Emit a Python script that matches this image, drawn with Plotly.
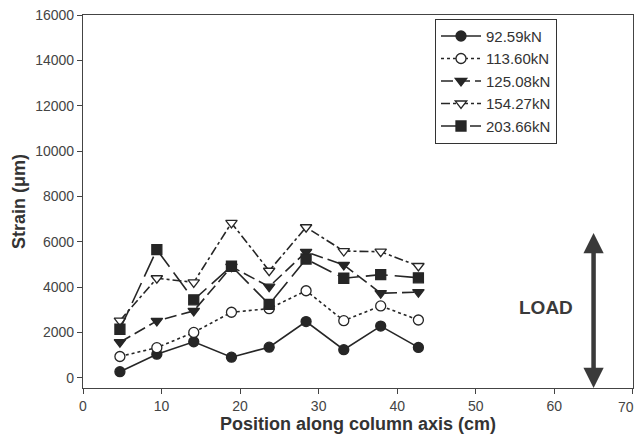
import plotly.graph_objects as go

positions = [4.7, 9.4, 14.1, 18.9, 23.7, 28.4, 33.2, 37.9, 42.7]
s_9259 = [270, 1040, 1590, 910, 1350, 2480, 1240, 2280, 1340]
s_11360 = [940, 1330, 2000, 2890, 3050, 3840, 2520, 3170, 2550]
s_12508 = [1570, 2510, 2950, 4900, 4020, 5550, 4980, 3730, 3780]
s_15427 = [2520, 4390, 4210, 6830, 4720, 6640, 5590, 5560, 4930]
s_20366 = [2140, 5650, 3440, 4920, 3240, 5240, 4390, 4550, 4410]
labels = ["92.59kN", "113.60kN", "125.08kN", "154.27kN", "203.66kN"]
y_ticks = list(range(0, 16001, 2000))
x_ticks = list(range(0, 71, 10))

ink = "#262626"
series = [
    (s_9259, "circle", ink, "solid"),
    (s_11360, "circle", "white", "dot"),
    (s_12508, "triangle-down", ink, "12px,5px"),
    (s_15427, "triangle-down", "white", "dashdot"),
    (s_20366, "square", ink, "22px,7px"),
]

fig = go.Figure()
for (vals, sym, fill, dash), name in zip(series, labels):
    fig.add_trace(go.Scatter(
        x=positions, y=vals, name=name, mode="lines+markers",
        line=dict(color=ink, width=1.6, dash=dash),
        marker=dict(symbol=sym, size=10, color=fill, line=dict(color=ink, width=1.3)),
    ))

fig.add_annotation(x=65, y=-450, ax=65, ay=6450, xref="x", yref="y", axref="x", ayref="y",
                   text="", showarrow=True, arrowhead=2, arrowside="end+start",
                   arrowsize=0.9, arrowwidth=4.5, arrowcolor="#3a3a3a")
fig.add_annotation(x=58.9, y=3100, xref="x", yref="y", text="<b>LOAD</b>", showarrow=False,
                   font=dict(size=19, color="#3a3a3a", family="Liberation Sans, Arial"))
# last x tick label, kept inside the page
fig.add_annotation(x=x_ticks[-1], y=-0.052, xref="x", yref="paper", text=str(x_ticks[-1]),
                   showarrow=False, xanchor="right", yanchor="middle", xshift=3,
                   font=dict(size=14, color="#444", family="Liberation Sans, Arial"))

axis_common = dict(showline=True, linecolor="#444", linewidth=1.2, mirror=True,
                   ticks="outside", ticklen=5, tickcolor="#444", showgrid=False, zeroline=False,
                   tickfont=dict(size=14, color="#444", family="Liberation Sans, Arial"))

fig.update_layout(
    width=636, height=440,
    margin=dict(l=83, r=3, t=15, b=52),
    paper_bgcolor="white", plot_bgcolor="white",
    xaxis=dict(range=[0, 70.02], tickvals=x_ticks, ticktext=[str(v) for v in x_ticks], **axis_common,
               title=dict(text="<b>Position along column axis (cm)</b>", standoff=3,
                          font=dict(size=18, color="#333", family="Liberation Sans, Arial"))),
    yaxis=dict(range=[-450, 16000], tickvals=y_ticks, ticktext=[str(v) for v in y_ticks], **axis_common,
               title=dict(text="<b>Strain (μm)</b>", standoff=4,
                          font=dict(size=18, color="#333", family="Liberation Sans, Arial"))),
    legend=dict(x=0.64, y=0.99, xanchor="left", yanchor="top",
                bordercolor="#333", borderwidth=1, bgcolor="white",
                font=dict(size=15, color="#333", family="Liberation Sans, Arial"),
                tracegroupgap=0, itemwidth=40),
    showlegend=True,
)

fig.write_html("out.html")
